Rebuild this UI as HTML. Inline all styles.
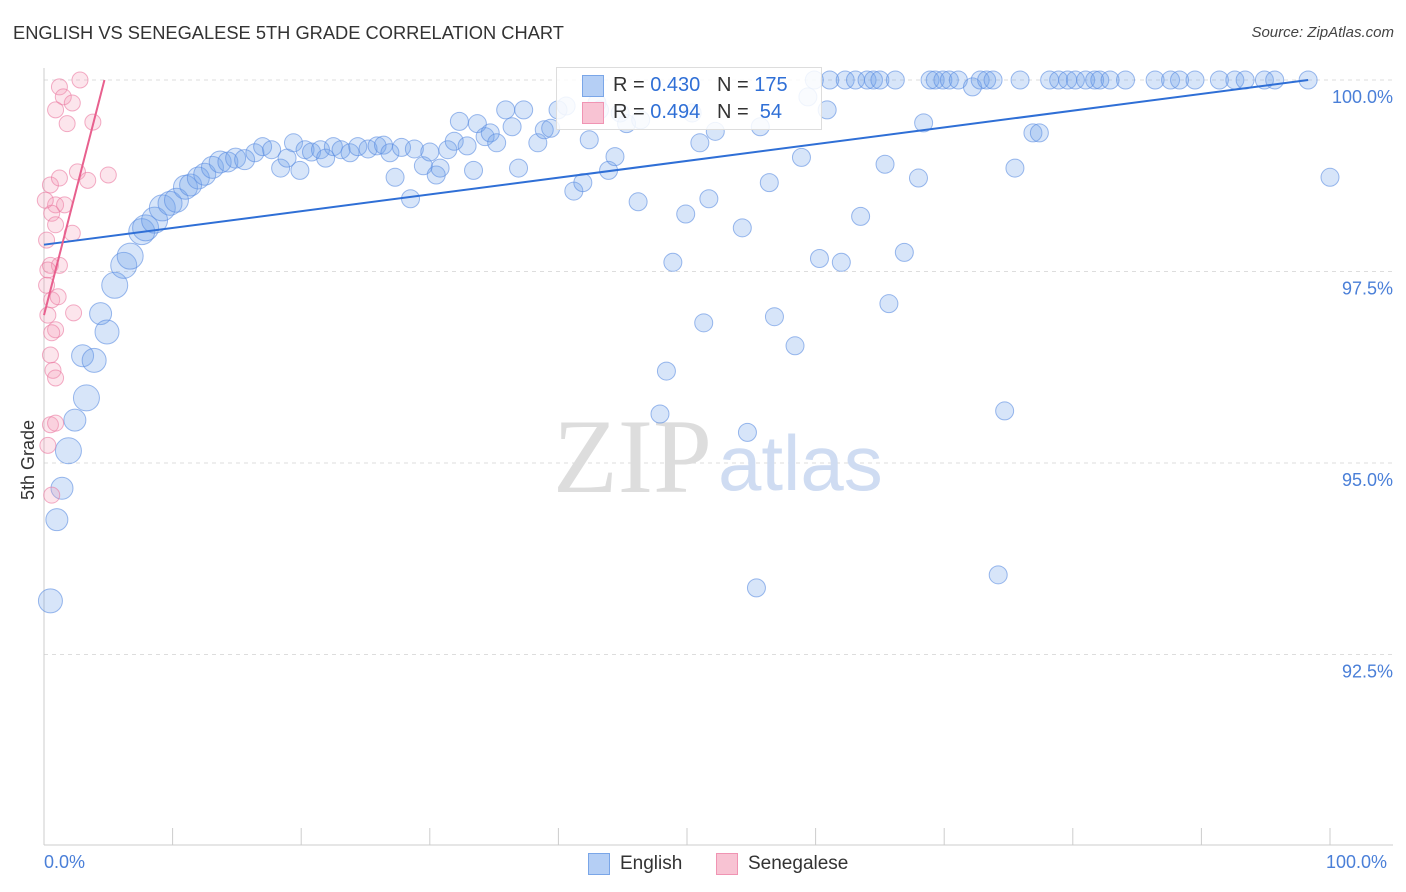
<!DOCTYPE html>
<html><head><meta charset="utf-8">
<style>
body{margin:0;background:#fff;font-family:"Liberation Sans",sans-serif;}
#wrap{position:relative;width:1406px;height:892px;overflow:hidden;}
.t{position:absolute;white-space:nowrap;}
</style></head>
<body>
<div id="wrap">
<div class="t" style="left:13px;top:22px;font-size:18.3px;color:#333;">ENGLISH VS SENEGALESE 5TH GRADE CORRELATION CHART</div>
<div class="t" style="right:12px;top:24px;font-size:15px;color:#444;font-style:italic;">Source: ZipAtlas.com</div>
<svg id="svg" width="1406" height="892" style="position:absolute;left:0;top:0"></svg>
</div>
<script>
const yTicks=[100,97.5,95,92.5];
const yTickLabels=["100.0%","97.5%","95.0%","92.5%"];
const blueX=[0.5,1.0,1.4,1.9,2.4,3.3,3.0,3.9,4.4,4.9,5.5,6.2,6.7,7.6,7.9,8.6,9.2,9.8,10.3,11.0,11.4,12.0,12.5,13.1,13.7,14.3,14.9,15.6,16.4,17.0,17.7,18.4,18.9,19.4,19.9,20.3,20.8,21.5,21.9,22.5,23.1,23.8,24.4,25.2,25.9,26.4,26.9,27.3,27.8,28.5,28.8,29.5,30.0,30.5,30.8,31.4,31.9,32.3,32.9,33.4,33.7,34.3,34.7,35.2,35.9,36.4,36.9,37.3,38.4,38.9,39.4,39.97,40.6,41.2,41.9,42.4,43.0,43.2,43.9,44.4,44.8,45.3,46.2,46.4,47.9,48.4,48.9,49.9,50.4,51.0,51.3,51.7,52.2,54.3,54.7,55.4,55.7,56.4,56.8,58.4,58.9,59.4,59.9,60.3,60.9,61.1,62.0,62.3,63.1,63.5,64.0,64.5,65.0,65.4,65.7,66.2,66.9,68.0,68.4,68.9,69.3,69.9,70.4,71.1,72.2,72.8,73.3,73.8,74.2,74.7,75.5,75.9,76.9,77.4,78.2,78.9,79.6,80.2,81.0,81.7,82.1,82.9,84.1,86.4,87.6,88.3,89.5,91.4,92.6,93.4,94.9,95.7,98.3,100];
const blueY=[93.2,94.26,94.67,95.16,95.56,95.85,96.4,96.34,96.95,96.71,97.32,97.58,97.70,98.02,98.07,98.17,98.33,98.39,98.43,98.60,98.63,98.72,98.77,98.86,98.93,98.93,98.98,98.96,99.05,99.13,99.09,98.85,98.98,99.18,98.82,99.09,99.06,99.09,98.98,99.13,99.09,99.05,99.13,99.1,99.14,99.15,99.05,98.73,99.12,98.45,99.1,98.88,99.06,98.76,98.85,99.09,99.2,99.46,99.14,98.82,99.43,99.26,99.31,99.18,99.61,99.39,98.85,99.61,99.18,99.35,99.37,99.61,99.66,98.55,98.66,99.22,99.7,99.61,98.82,99.0,99.57,99.43,98.41,99.48,95.64,96.2,97.62,98.25,99.57,99.18,96.83,98.45,99.33,98.07,95.4,93.37,99.39,98.66,96.91,96.53,98.99,99.78,100,97.67,99.61,100,97.62,100,100,98.22,100,100,100,98.9,97.08,100,97.75,98.72,99.44,100,100,100,100,100,99.91,100,100,100,93.54,95.68,98.85,100,99.31,99.31,100,100,100,100,100,100,100,100,100,100,100,100,100,100,100,100,100,100,100,98.73];
const blueR=[12,11,11,13,11,13,11,12,11,12,13,13,13,13,13,13,13,12,12,12,11,11,11,11,11,10,10,10,9];
const pinkX=[0.5,0.9,0.6,0.9,0.2,0.5,0.2,0.6,0.3,0.9,0.5,0.7,0.9,0.5,0.3,0.6,1.2,1.5,2.2,0.9,1.8,2.8,3.8,1.2,2.6,3.4,5.0,1.6,2.2,1.2,1.1,2.3,0.3,0.6,0.9,0.1];
const pinkY=[98.63,98.37,98.26,98.11,97.91,97.58,97.32,97.13,96.93,96.74,96.41,96.21,96.11,95.5,95.23,94.58,99.91,99.78,99.7,99.61,99.43,100,99.45,98.72,98.8,98.69,98.76,98.37,98.0,97.58,97.17,96.96,97.52,96.7,95.52,98.43];
const blueLine=[[0,97.85],[98.3,100]];
const pinkLine=[[0,96.93],[4.7,100]];

const X=v=>44+v*12.86;
const Y=v=>80+(100-v)*76.6;
const svg=document.getElementById('svg');
const NS='http://www.w3.org/2000/svg';
function mk(tag,attrs,parent){const e=document.createElementNS(NS,tag);for(const k in attrs)e.setAttribute(k,attrs[k]);(parent||svg).appendChild(e);return e;}

yTicks.forEach((t,i)=>{
  const g=mk('line',{x1:44,x2:1393,y1:Y(t),y2:Y(t),stroke:'#ddd','stroke-dasharray':'4,4'});
  
  
  const tx=mk('text',{x:1393,y:Y(t)+23,'text-anchor':'end','font-size':18,fill:'#4a7fd8','font-family':'Liberation Sans, sans-serif'});
  tx.textContent=yTickLabels[i];
  
  
});
const ax=mk('line',{x1:44,x2:1393,y1:845,y2:845,stroke:'#ccc'});


const ay=mk('line',{x1:44,x2:44,y1:68,y2:845,stroke:'#ccc'});


for(let i=0;i<=10;i++){
  const tk=mk('line',{x1:X(i*10),x2:X(i*10),y1:828,y2:845,stroke:'#ccc'});
  
  
}
const wm=mk('text',{x:553,y:492,'font-size':106,fill:'#ddd','font-family':'Liberation Serif, serif'});
wm.textContent='ZIP';


const wm2=mk('text',{x:718,y:490,'font-size':78,fill:'#cfdcf2','font-family':'Liberation Sans, sans-serif'});
wm2.textContent='atlas';



blueX.forEach((x,i)=>{
  const c=mk('circle',{cx:X(x),cy:Y(blueY[i]),r:blueR[i]||9,fill:'rgba(110,160,235,0.28)',stroke:'rgba(90,140,225,0.6)','stroke-width':1});
  
  
});
pinkX.forEach((x,i)=>{
  const c=mk('circle',{cx:X(x),cy:Y(pinkY[i]),r:8,fill:'rgba(245,150,180,0.25)',stroke:'rgba(235,120,160,0.6)','stroke-width':1});
  
  
});
const bl=mk('line',{x1:X(blueLine[0][0]),y1:Y(blueLine[0][1]),x2:X(blueLine[1][0]),y2:Y(blueLine[1][1]),stroke:'#2f6fd6','stroke-width':2});


const pl=mk('line',{x1:X(pinkLine[0][0]),y1:Y(pinkLine[0][1]),x2:X(pinkLine[1][0]),y2:Y(pinkLine[1][1]),stroke:'#e8608e','stroke-width':2});


</script>
<div class="t" style="left:556px;top:67px;width:264px;height:61px;border:1px solid #ddd;background:rgba(255,255,255,0.85);"></div>
<div class="t" style="left:582px;top:75px;width:20px;height:20px;background:#b5cff5;border:1px solid #7aa6e8;"></div>
<div class="t" style="left:582px;top:102px;width:20px;height:20px;background:#f8c3d3;border:1px solid #f094b3;"></div>
<div class="t" style="left:613px;top:74px;font-size:20px;color:#333;">R = <span style="color:#2f6fd6">0.430</span>&nbsp;&nbsp;&nbsp;N = <span style="color:#2f6fd6">175</span></div>
<div class="t" style="left:613px;top:101px;font-size:20px;color:#333;">R = <span style="color:#2f6fd6">0.494</span>&nbsp;&nbsp;&nbsp;N = &nbsp;<span style="color:#2f6fd6">54</span></div>
<div class="t" style="left:18px;top:500px;font-size:18px;color:#333;transform:rotate(-90deg);transform-origin:0 0;">5th Grade</div>
<div class="t" style="left:44px;top:852px;font-size:18px;color:#4a7fd8;">0.0%</div>
<div class="t" style="left:1326px;top:852px;font-size:18px;color:#4a7fd8;">100.0%</div>
<div class="t" style="left:588px;top:853px;width:20px;height:20px;background:#b5cff5;border:1px solid #7aa6e8;"></div>
<div class="t" style="left:620px;top:853px;font-size:19px;color:#333;">English</div>
<div class="t" style="left:716px;top:853px;width:20px;height:20px;background:#f8c3d3;border:1px solid #f094b3;"></div>
<div class="t" style="left:748px;top:853px;font-size:19px;color:#333;">Senegalese</div>
</body></html>
